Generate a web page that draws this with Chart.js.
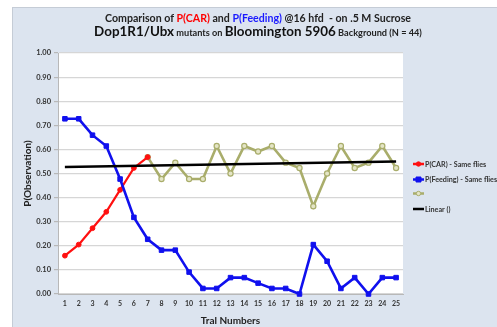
<!DOCTYPE html>
<html>
<head>
<meta charset="utf-8">
<script src="https://cdn.jsdelivr.net/npm/chart.js@4.4.1/dist/chart.umd.min.js"></script>
<style>
    html, body { margin: 0; padding: 0; background: #fff; }
    #wrap { width: 497px; height: 327px; }
</style>
</head>
<body>
<div id="wrap"><canvas id="trialChart" width="497" height="327"></canvas></div>
<script>
// Trial numbers on the x axis
const trials = ['1', '2', '3', '4', '5', '6', '7', '8', '9', '10', '11', '12', '13',
    '14', '15', '16', '17', '18', '19', '20', '21', '22', '23', '24', '25'];

// Fractions of flies (N = 44) per trial
const pCar = [0.159, 0.205, 0.273, 0.341, 0.432, 0.523, 0.568,
    null, null, null, null, null, null, null, null, null, null, null, null, null, null, null, null, null, null];
const pFeeding = [0.727, 0.727, 0.659, 0.614, 0.477, 0.318, 0.227, 0.182, 0.182, 0.091, 0.023, 0.023, 0.068,
    0.068, 0.045, 0.023, 0.023, 0.0, 0.205, 0.136, 0.023, 0.068, 0.0, 0.068, 0.068];
const pOther = [null, null, null, null, null, null, 0.568, 0.477, 0.545, 0.477, 0.477, 0.614, 0.5,
    0.614, 0.591, 0.614, 0.545, 0.523, 0.364, 0.5, 0.614, 0.523, 0.545, 0.614, 0.523];
// Linear trend: only the two end values, joined across the gap
const linearFit = [0.527, null, null, null, null, null, null, null, null, null, null, null, null,
    null, null, null, null, null, null, null, null, null, null, null, 0.550];

const yTicks = [0, 0.1, 0.2, 0.3, 0.4, 0.5, 0.6, 0.7, 0.8, 0.9, 1.0];

const FONT = 'Lato, "Open Sans", sans-serif';
const PANEL = '#dce4ef';

// Panel and white plot background
const backgroundPlugin = {
    id: 'panelBackground',
    beforeDraw(chart) {
        const ctx = chart.ctx;
        const a = chart.chartArea;
        ctx.save();
        ctx.fillStyle = '#ffffff';
        ctx.fillRect(0, 0, chart.width, chart.height);
        ctx.fillStyle = PANEL;
        ctx.fillRect(12, 7, chart.width - 12, chart.height - 7);
        ctx.strokeStyle = '#c5ccd6';
        ctx.lineWidth = 1;
        ctx.strokeRect(12.5, 7.5, chart.width, chart.height);
        ctx.fillStyle = '#ffffff';
        ctx.fillRect(a.left, a.top, a.right - a.left, a.bottom - a.top);
        ctx.restore();
    }
};

// Two-line title with coloured and mixed-size runs
const titlePlugin = {
    id: 'mixedTitle',
    afterDraw(chart) {
        const ctx = chart.ctx;
        const lines = [
            { y: 19, runs: [
                { text: 'Comparison of ', size: 10.6, color: '#222' },
                { text: 'P(CAR)', size: 10.6, color: '#ff0000' },
                { text: ' and ', size: 10.6, color: '#222' },
                { text: 'P(Feeding)', size: 10.6, color: '#1a1aff' },
                { text: ' @16 hfd  - on .5 M Sucrose', size: 10.6, color: '#222' }
            ] },
            { y: 33, runs: [
                { text: 'Dop1R1/Ubx', size: 13.4, color: '#111' },
                { text: ' mutants on ', size: 9.2, color: '#222' },
                { text: 'Bloomington 5906', size: 13.4, color: '#111' },
                { text: ' Background (N = 44)', size: 9.2, color: '#222' }
            ] }
        ];
        const cx = 258;
        ctx.save();
        ctx.textBaseline = 'alphabetic';
        ctx.textAlign = 'left';
        lines.forEach(line => {
            let total = 0;
            line.runs.forEach(r => {
                ctx.font = `bold ${r.size}px ${FONT}`;
                r.w = ctx.measureText(r.text).width;
                total += r.w;
            });
            let x = cx - total / 2;
            line.runs.forEach(r => {
                ctx.font = `bold ${r.size}px ${FONT}`;
                ctx.fillStyle = r.color;
                ctx.fillText(r.text, x, line.y + 3);
                x += r.w;
            });
        });
        ctx.restore();
    }
};

// Legend on the right: short line with marker, then label
const legendPlugin = {
    id: 'sideLegend',
    afterDraw(chart) {
        const ctx = chart.ctx;
        const rows = [164, 179.5, 193.5, 209];
        ctx.save();
        ctx.font = `bold 7.2px ${FONT}`;
        ctx.textBaseline = 'middle';
        chart.data.datasets.forEach((ds, i) => {
            const y = rows[i];
            ctx.strokeStyle = ds.borderColor;
            ctx.lineWidth = 2.5;
            ctx.beginPath();
            ctx.moveTo(413, y);
            ctx.lineTo(424, y);
            ctx.stroke();
            if (ds.pointRadius > 0) {
                ctx.fillStyle = ds.pointBackgroundColor;
                ctx.strokeStyle = ds.pointBorderColor;
                ctx.lineWidth = 1;
                ctx.beginPath();
                if (ds.pointStyle === 'rect') {
                    ctx.rect(416, y - 2.5, 5, 5);
                } else {
                    ctx.arc(418.5, y, 2.2, 0, Math.PI * 2);
                }
                ctx.fill();
                ctx.stroke();
            }
            ctx.fillStyle = '#333';
            ctx.fillText(ds.label, 425, y + 0.5);
        });
        ctx.restore();
    }
};

const ctx = document.getElementById('trialChart').getContext('2d');
const chart = new Chart(ctx, {
    type: 'line',
    data: {
        labels: trials,
        datasets: [
            {
                label: 'P(CAR) - Same flies',
                data: pCar,
                borderColor: '#ff1010',
                borderWidth: 2.2,
                pointStyle: 'circle',
                pointRadius: 2.4,
                pointBackgroundColor: '#ff1010',
                pointBorderColor: '#ff1010',
                pointBorderWidth: 1,
                tension: 0,
                clip: 8,
                order: 3
            },
            {
                label: 'P(Feeding) - Same flies',
                data: pFeeding,
                borderColor: '#1010ee',
                borderWidth: 2.6,
                pointStyle: 'rect',
                pointRadius: 3.2,
                pointBackgroundColor: '#1010ee',
                pointBorderColor: '#1010ee',
                pointBorderWidth: 1,
                tension: 0,
                clip: 8,
                order: 2
            },
            {
                label: '',
                data: pOther,
                borderColor: '#a9ad6b',
                borderWidth: 2.6,
                pointStyle: 'circle',
                pointRadius: 2.6,
                pointBackgroundColor: '#e4e5c6',
                pointBorderColor: '#a9ad6b',
                pointBorderWidth: 1.2,
                tension: 0,
                clip: 8,
                order: 4
            },
            {
                label: 'Linear ()',
                data: linearFit,
                borderColor: '#000000',
                borderWidth: 2.6,
                pointRadius: 0,
                spanGaps: true,
                tension: 0,
                clip: 8,
                order: 1
            }
        ]
    },
    options: {
        responsive: false,
        animation: false,
        devicePixelRatio: 1,
        layout: {
            padding: { left: 12, top: 53, right: 94, bottom: 0 }
        },
        plugins: {
            legend: { display: false },
            title: { display: false },
            tooltip: { enabled: false }
        },
        scales: {
            x: {
                type: 'category',
                offset: true,
                grid: { display: false, drawTicks: false },
                border: { display: true, color: '#b8b8b8', width: 1 },
                ticks: {
                    autoSkip: false,
                    maxRotation: 0,
                    padding: 6,
                    color: '#333',
                    font: { family: FONT, size: 7, weight: 'bold' }
                },
                title: {
                    display: true,
                    text: 'Tral Numbers',
                    color: '#222',
                    padding: { top: 3, bottom: 0 },
                    font: { family: FONT, size: 10, weight: 'bold' }
                },
                afterFit(scale) { scale.height = 33; }
            },
            y: {
                min: 0,
                max: 1,
                afterBuildTicks(scale) { scale.ticks = yTicks.map(v => ({ value: v })); },
                grid: {
                    color: '#d6d6d6',
                    lineWidth: 1.2,
                    drawTicks: true,
                    tickLength: 4,
                    tickColor: '#b8b8b8'
                },
                border: { display: true, color: '#b8b8b8', width: 1 },
                ticks: {
                    padding: 3,
                    color: '#333',
                    font: { family: FONT, size: 7.5, weight: 'bold' },
                    callback: v => Number(v).toFixed(2)
                },
                title: {
                    display: true,
                    text: 'P(Observation)',
                    color: '#222',
                    padding: { top: 10, bottom: 0 },
                    font: { family: FONT, size: 10, weight: 'bold' }
                },
                afterFit(scale) { scale.width = 46; }
            }
        }
    },
    plugins: [backgroundPlugin, titlePlugin, legendPlugin]
});
</script>
</body>
</html>
